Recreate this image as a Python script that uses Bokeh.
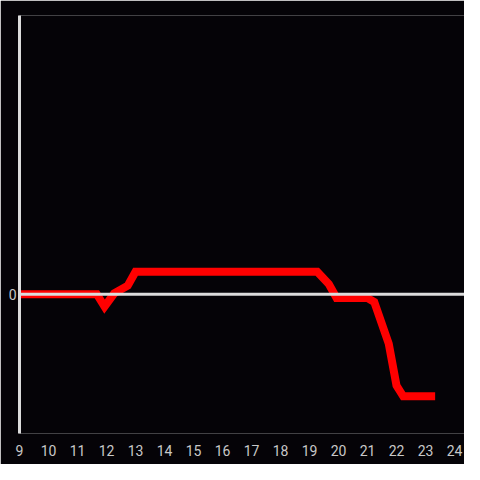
from bokeh.plotting import figure
from bokeh.models import Range1d, FixedTicker, Span, ColumnDataSource
from bokeh.embed import file_html
from bokeh.resources import INLINE

# data
hours = [9, 11.667, 11.933, 12.267, 12.733, 13.0, 19.267, 19.667, 19.933,
         21.0, 21.233, 21.733, 22.0, 22.233, 23.333]
values = [0, 0, -0.8, 0.05, 0.55, 1.45, 1.45, 0.65, -0.25,
          -0.25, -0.5, -3.2, -5.9, -6.6, -6.6]
x_ticks = list(range(9, 25))
y_ticks = [0]

BG = "#050307"
AX = "#dcdcdc"
LBL = "#c8c8c8"
FONT = "Roboto"

p = figure(width=464, height=464, output_backend="svg", toolbar_location=None,
           x_range=Range1d(9, 24.345), y_range=Range1d(-9, 18),
           min_border_left=19, min_border_right=0, min_border_top=15,
           min_border_bottom=31)
p.background_fill_color = BG
p.border_fill_color = BG
p.outline_line_color = None
p.xgrid.visible = False
p.ygrid.visible = False

p.xaxis.ticker = FixedTicker(ticks=x_ticks)
p.xaxis.axis_line_color = None
p.xaxis.major_tick_line_color = None
p.xaxis.minor_tick_line_color = None
p.xaxis.major_tick_out = 0
p.xaxis.major_label_standoff = 11
p.xaxis.major_label_text_color = LBL
p.xaxis.major_label_text_font = FONT
p.xaxis.major_label_text_font_size = "14px"

p.yaxis.ticker = FixedTicker(ticks=y_ticks)
p.yaxis.axis_line_color = AX
p.yaxis.axis_line_width = 3
p.yaxis.major_tick_line_color = None
p.yaxis.minor_tick_line_color = None
p.yaxis.major_tick_out = 0
p.yaxis.major_label_standoff = 3
p.yaxis.major_label_text_color = LBL
p.yaxis.major_label_text_font = FONT
p.yaxis.major_label_text_font_size = "14px"

p.add_layout(Span(location=0, dimension="width", line_color=AX, line_width=3))

src = ColumnDataSource(data=dict(x=hours, y=values))
p.line("x", "y", source=src, line_color="#ff0000", line_width=8,
       line_join="miter", line_cap="butt")

open("out.html", "w").write(file_html(p, INLINE))
